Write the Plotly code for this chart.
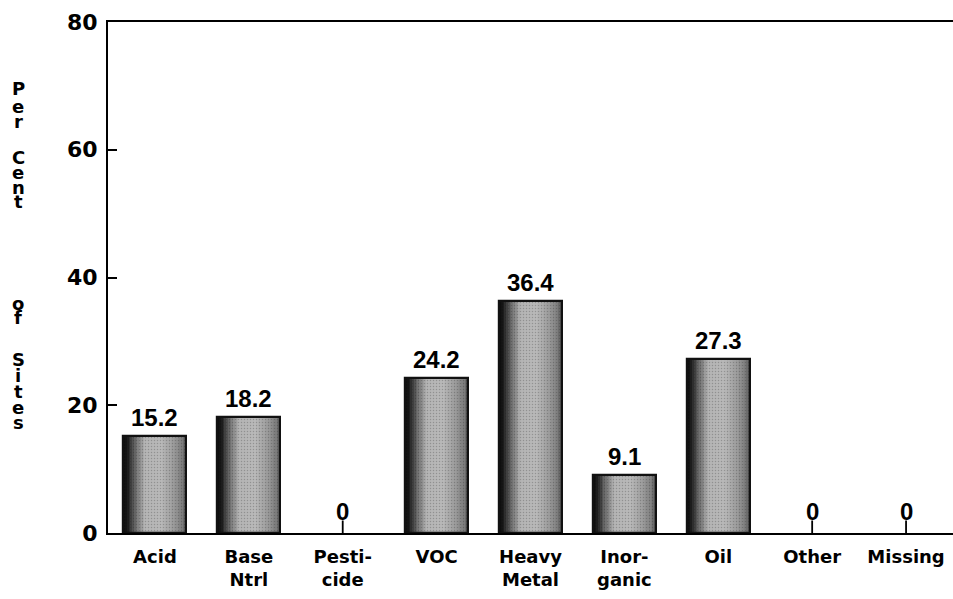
import plotly.graph_objects as go

# Share of sites by contaminant class
categories = ["Acid", "Base<br>Ntrl", "Pesti-<br>cide", "VOC", "Heavy<br>Metal",
              "Inor-<br>ganic", "Oil", "Other", "Missing"]
percent = [15.2, 18.2, 0, 24.2, 36.4, 9.1, 27.3, 0, 0]
y_ticks = [0, 20, 40, 60, 80]
y_title = "Per Cent of Sites"

FONT = "DejaVu Sans"
LABEL_FONT = "Liberation Sans"
BAR_W = 0.67
N_STRIPS = 36

# grey level profile across a bar (left edge dark, bright middle, darker right)
profile = [(0.00, 12), (0.06, 22), (0.18, 100), (0.34, 180), (0.60, 185),
           (0.80, 155), (0.93, 125), (1.00, 85)]


def grey_at(t):
    for (t0, g0), (t1, g1) in zip(profile, profile[1:]):
        if t0 <= t <= t1:
            g = g0 + (g1 - g0) * (t - t0) / (t1 - t0)
            return int(round(g))
    return profile[-1][1]


# zero-valued categories get no bar body, only the labelled stem
bar_heights = [v if v > 0 else None for v in percent]

fig = go.Figure()

strip_w = BAR_W / N_STRIPS
for i in range(N_STRIPS):
    g = grey_at((i + 0.5) / N_STRIPS)
    col = f"rgb({g},{g},{g})"
    fig.add_trace(go.Bar(
        x=categories, y=bar_heights,
        width=strip_w * 1.15, offset=-BAR_W / 2 + i * strip_w,
        marker=dict(color=col, line=dict(width=0),
                    pattern=dict(shape=".", fgcolor="rgba(30,30,30,0.5)",
                                 size=3, solidity=0.2, fillmode="overlay")),
        showlegend=False, hoverinfo="skip",
    ))

# bar outlines
fig.add_trace(go.Bar(
    x=categories, y=bar_heights, width=BAR_W,
    marker=dict(color="rgba(0,0,0,0)", line=dict(color="#111", width=2.2)),
    showlegend=False, hoverinfo="skip",
))

annotations = []
for cat, v in zip(categories, percent):
    if v > 0:
        annotations.append(dict(
            x=cat, y=v, xref="x", yref="y", text=f"{v:.1f}",
            showarrow=False, yanchor="bottom", yshift=3,
            font=dict(family=LABEL_FONT, size=24, color="#000", weight=700),
        ))
    else:
        annotations.append(dict(
            x=cat, y=v, xref="x", yref="y", text="0",
            showarrow=True, arrowhead=0, arrowwidth=1.8, arrowcolor="#000",
            ax=0, ay=-22, height=18, borderpad=0, standoff=0,
            font=dict(family=LABEL_FONT, size=24, color="#000", weight=700),
        ))

# vertical, letter-stacked axis title
letter_rows = [("P", 88), ("e", 106), ("r", 121), ("C", 157), ("e", 172),
               ("n", 187), ("t", 201), ("o", 303), ("f", 317), ("S", 359),
               ("i", 375), ("t", 391), ("e", 407), ("s", 422)]
plot_left, plot_w, plot_bottom, plot_h = 108, 845, 533, 511
for ch, py in letter_rows:
    annotations.append(dict(
        x=(18 - plot_left) / plot_w, y=(plot_bottom - py) / plot_h,
        xref="paper", yref="paper", text=ch, showarrow=False,
        xanchor="center", yanchor="middle", borderpad=0,
        font=dict(family=FONT, size=18, color="#000", weight=700),
    ))

fig.update_layout(
    width=953, height=599,
    margin=dict(l=108, r=0, t=22, b=66),
    paper_bgcolor="white", plot_bgcolor="white",
    barmode="overlay", bargap=0,
    annotations=annotations,
    xaxis=dict(
        range=[-0.5, 8.5], showgrid=False, zeroline=False,
        showline=True, linecolor="#000", linewidth=2, mirror=True,
        ticks="", tickfont=dict(family=FONT, size=18, color="#000", weight=700),
        ticklabelstandoff=6,
    ),
    yaxis=dict(
        range=[0, 80], tickvals=y_ticks, showgrid=False, zeroline=False,
        showline=True, linecolor="#000", linewidth=2,
        ticks="inside", ticklen=9, tickwidth=1.5, tickcolor="#000",
        tickfont=dict(family=FONT, size=22, color="#000", weight=700),
        ticklabelstandoff=4,
    ),
)

fig.write_html("out.html")
